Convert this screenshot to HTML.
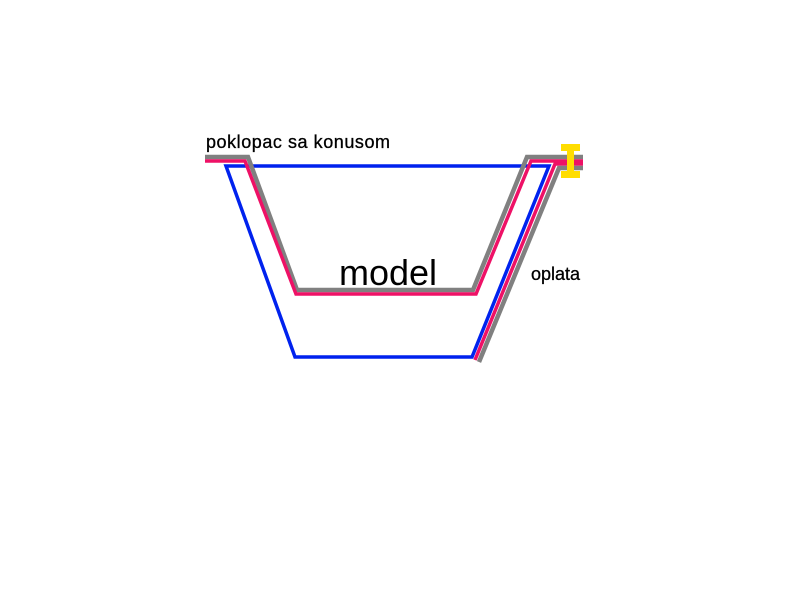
<!DOCTYPE html>
<html><head><style>body{margin:0;background:#fff}svg{display:block}</style></head>
<body>
<svg width="800" height="600" xmlns="http://www.w3.org/2000/svg" font-family="Liberation Sans, Arial, sans-serif">
<rect width="800" height="600" fill="#fff"/>
<polygon points="226,166 549,166 472,357 295,357" fill="none" stroke="#0022ee" stroke-width="3.5"/>
<polyline points="205,157 248,157 297,290 473,290 527,157 583,157" fill="none" stroke="#808080" stroke-width="4.5"/>
<polyline points="205,161 245,161 296,294 476,294 531,161 583,161" fill="none" stroke="#ee1166" stroke-width="3.5"/>
<polyline points="475,360 555,164 583,164" fill="none" stroke="#ee1166" stroke-width="3.5"/>
<polyline points="479,362 559,168 583,168" fill="none" stroke="#808080" stroke-width="4.5"/>
<g fill="#ffdd00">
<rect x="561" y="144" width="19" height="7"/>
<rect x="567" y="144" width="7" height="34"/>
<rect x="561" y="171" width="19" height="7"/>
</g>
<text x="206" y="148" font-size="18" stroke="#000" stroke-width="0.3" textLength="184">poklopac sa konusom</text>
<text x="339" y="285" font-size="36">model</text>
<text x="531" y="280" font-size="18" stroke="#000" stroke-width="0.3">oplata</text>
</svg>
</body></html>
